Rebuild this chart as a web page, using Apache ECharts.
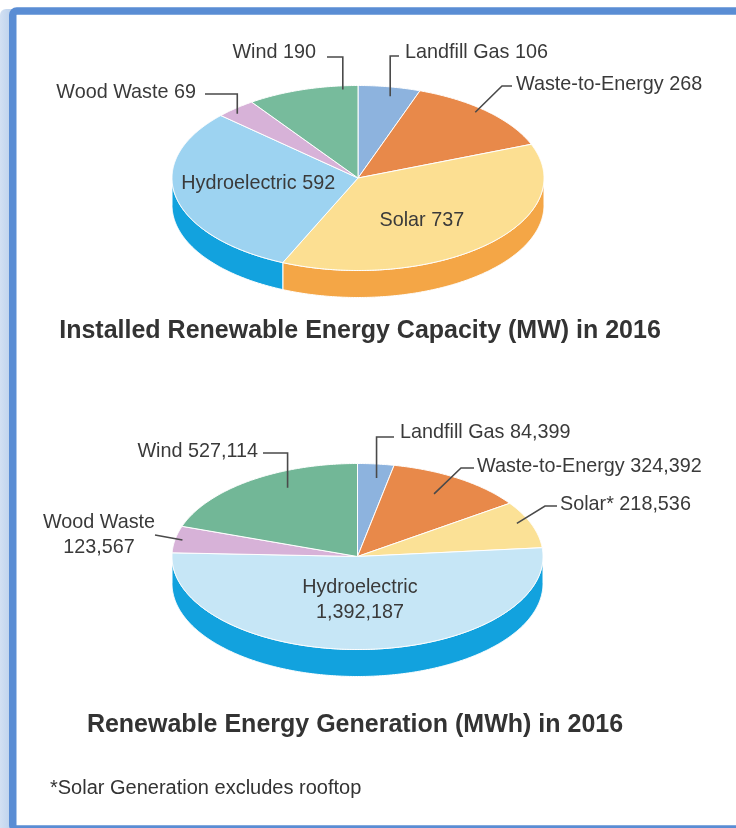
<!DOCTYPE html>
<html><head><meta charset="utf-8">
<script src="https://cdn.jsdelivr.net/npm/echarts@6/dist/echarts.min.js"></script>
<style>html,body{margin:0;padding:0;background:#fff}#c{width:736px;height:828px}</style>
</head><body><div id="c"></div>
<script>
// ---------- data ----------
const capacityNames = ['Landfill Gas', 'Waste-to-Energy', 'Solar', 'Hydroelectric', 'Wood Waste', 'Wind'];
const capacityMW = [106, 268, 737, 592, 69, 190];
const generationNames = ['Landfill Gas', 'Waste-to-Energy', 'Solar*', 'Hydroelectric', 'Wood Waste', 'Wind'];
const generationMWh = [84399, 324392, 218536, 1392187, 123567, 527114];
const capacityTitle = 'Installed Renewable Energy Capacity (MW) in 2016';
const generationTitle = 'Renewable Energy Generation (MWh) in 2016';
const footnote = '*Solar Generation excludes rooftop';

// ---------- style / layout ----------
const FONT = '"Liberation Sans", Arial, sans-serif';
const TXT = '#3a3a3a';
const LEAD = '#4a4a4a';
const LABEL_SIZE = 19.8;
const sideColors = ['#6f93bf', '#c96f33', '#f4a646', '#12a2de', '#b892b8', '#5a9a7e'];
const topColorsA = ['#8db3de', '#e8894a', '#fcdf92', '#9dd3f1', '#d7b2d8', '#77bb9c'];
const topColorsB = ['#8db3de', '#e8894a', '#fbe196', '#c6e6f6', '#d7b2d8', '#72b797'];

const geomA = {cx: 358, cy: 178, rx: 186, ry: 92.5, depth: 27};
const geomB = {cx: 357.5, cy: 556.5, rx: 185.5, ry: 93, depth: 27};

// label layouts (index = category index)
const layoutA = [
  {t: .57, r: .90, tx: 405, ty: 53, align: 'left', lead: 'v', lx0: 399, ly: 56},
  {t: .45, r: .95, tx: 516, ty: 85, align: 'left', lead: 'd', lx0: 512, lx1: 502, ly: 86},
  {inside: true, t: .55, r: .57},
  {inside: true, t: .55, r: .54},
  {t: .35, r: .95, tx: 196, ty: 93, align: 'right', lead: 'v', lx0: 205, ly: 94},
  {t: .86, r: .96, tx: 316, ty: 53, align: 'right', lead: 'v', lx0: 327, ly: 57}
];
const layoutB = [
  {t: .61, r: .85, tx: 400, ty: 433, align: 'left', lead: 'v', lx0: 394, ly: 437},
  {t: .46, r: .79, tx: 477, ty: 467, align: 'left', lead: 'd', lx0: 474, lx1: 461, ly: 468},
  {t: .42, r: .93, tx: 560, ty: 505, align: 'left', lead: 'd', lx0: 557, lx1: 545, ly: 506},
  {inside: true, t: .5, r: .47, multi: true},
  {t: .5, r: .96, tx: 99, ty: 535, align: 'center', lead: 's', lx0: 155, ly: 535, multi: true},
  {t: .62, r: .83, tx: 258, ty: 452, align: 'right', lead: 'v', lx0: 263, ly: 453}
];

function fmt(v) { return String(v).replace(/\B(?=(\d{3})+(?!\d))/g, ','); }

function makeRender(values, names, geom, topColors, layout) {
  const total = values.reduce((a, b) => a + b, 0);
  const starts = [];
  let acc = 0;
  values.forEach(v => { starts.push(acc / total * 360); acc += v; });
  function pt(deg, r, dy) {
    const a = deg * Math.PI / 180;
    return [geom.cx + geom.rx * r * Math.sin(a), geom.cy - geom.ry * r * Math.cos(a) + (dy || 0)];
  }
  function arc(a0, a1, r, dy) {
    const pts = [];
    const n = Math.max(2, Math.ceil((a1 - a0) / 0.5));
    for (let k = 0; k <= n; k++) pts.push(pt(a0 + (a1 - a0) * k / n, r, dy));
    return pts;
  }
  return function (params, api) {
    const i = params.dataIndex;
    const v = api.value(0);
    const a0 = starts[i];
    const a1 = a0 + v / total * 360;
    const children = [];
    // top face
    children.push({
      type: 'polygon', z2: 10,
      shape: {points: [[geom.cx, geom.cy]].concat(arc(a0, a1, 1, 0))},
      style: {fill: topColors[i], stroke: '#ffffff', lineWidth: 1, lineJoin: 'round'}
    });
    // front side wall
    const b0 = Math.max(a0, 90), b1 = Math.min(a1, 270);
    if (b1 > b0) {
      const top = arc(b0, b1, 1, 0);
      const bot = arc(b0, b1, 1, geom.depth).reverse();
      children.push({
        type: 'polygon', z2: 2,
        shape: {points: top.concat(bot)},
        style: {fill: sideColors[i], stroke: '#ffffff', lineWidth: 1}
      });
    }
    // label
    const L = layout[i];
    const ang = a0 + (a1 - a0) * L.t;
    const ep = pt(ang, L.r, 0);
    const text = L.multi ? names[i] + '\n' + fmt(v) : names[i] + ' ' + fmt(v);
    if (L.inside) {
      children.push({
        type: 'text', z2: 30, x: ep[0], y: ep[1],
        style: {text: text, fill: TXT, fontSize: LABEL_SIZE, fontFamily: FONT, align: 'center',
                verticalAlign: 'middle', lineHeight: 25}
      });
    } else {
      children.push({
        type: 'text', z2: 30, x: L.tx, y: L.ty,
        style: {text: text, fill: TXT, fontSize: LABEL_SIZE, fontFamily: FONT, align: L.align,
                verticalAlign: 'middle', lineHeight: 25}
      });
      let pts;
      if (L.lead === 'v') pts = [[L.lx0, L.ly], [ep[0], L.ly], ep];
      else if (L.lead === 'd') pts = [[L.lx0, L.ly], [L.lx1, L.ly], ep];
      else pts = [[L.lx0, L.ly], ep];
      children.push({
        type: 'polyline', z2: 30, shape: {points: pts},
        style: {stroke: LEAD, lineWidth: 1.6, fill: null}
      });
    }
    return {type: 'group', children: children};
  };
}

const chart = echarts.init(document.getElementById('c'), null, {renderer: 'canvas'});
chart.setOption({
  backgroundColor: '#ffffff',
  animation: false,
  graphic: [
    {type: 'rect', z: 0, shape: {x: 0, y: 9, width: 12, height: 830, r: [6, 0, 0, 0]},
     style: {fill: {type: 'linear', x: 0, y: 0, x2: 1, y2: 0,
       colorStops: [{offset: 0, color: '#d2e0f3'}, {offset: 1, color: '#bcd1ec'}]}}},
    {type: 'rect', z: 1, shape: {x: 12.75, y: 11, width: 760, height: 818, r: 4},
     style: {fill: null, stroke: '#5a8dd4', lineWidth: 7.5}},
    {type: 'text', z: 5, x: 360, y: 331,
     style: {text: capacityTitle, fill: '#333333', font: 'bold 25px ' + FONT, align: 'center', verticalAlign: 'middle'}},
    {type: 'text', z: 5, x: 355, y: 725,
     style: {text: generationTitle, fill: '#333333', font: 'bold 25px ' + FONT, align: 'center', verticalAlign: 'middle'}},
    {type: 'text', z: 5, x: 50, y: 788,
     style: {text: footnote, fill: '#333333', font: '20px ' + FONT, align: 'left', verticalAlign: 'middle'}}
  ],
  series: [
    {type: 'custom', coordinateSystem: 'none', silent: true,
     data: capacityMW.map((v, i) => ({name: capacityNames[i], value: v})),
     renderItem: makeRender(capacityMW, capacityNames, geomA, topColorsA, layoutA)},
    {type: 'custom', coordinateSystem: 'none', silent: true,
     data: generationMWh.map((v, i) => ({name: generationNames[i], value: v})),
     renderItem: makeRender(generationMWh, generationNames, geomB, topColorsB, layoutB)}
  ]
});
</script></body></html>
